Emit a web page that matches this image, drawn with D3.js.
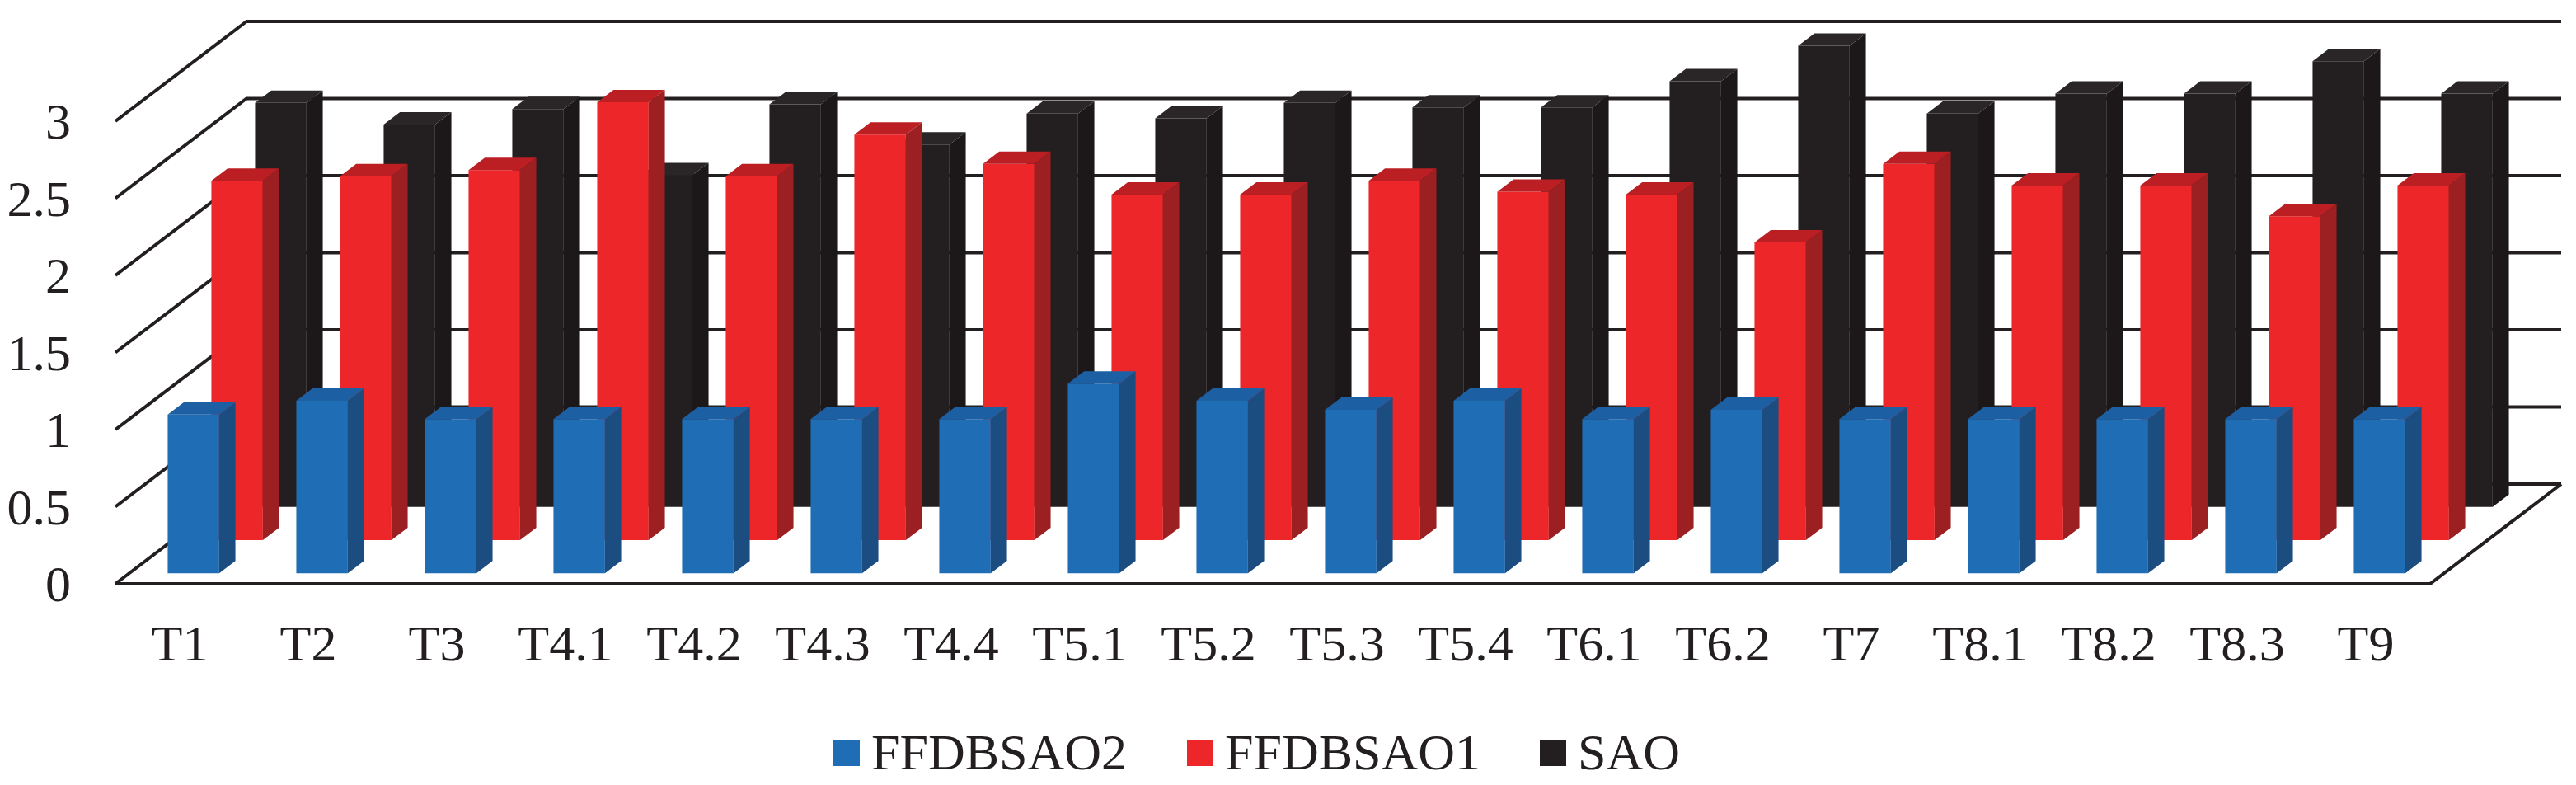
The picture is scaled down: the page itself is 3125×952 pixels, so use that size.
<!DOCTYPE html>
<html>
<head>
<meta charset="utf-8">
<script src="https://cdn.jsdelivr.net/npm/d3@7"></script>
<style>
  html, body { margin: 0; padding: 0; background: #fff; }
  svg { display: block; }
</style>
</head>
<body>
<div id="chart"></div>
<script>
const categories = ["T1", "T2", "T3", "T4.1", "T4.2", "T4.3", "T4.4", "T5.1", "T5.2",
  "T5.3", "T5.4", "T6.1", "T6.2", "T7", "T8.1", "T8.2", "T8.3", "T9"];

const ffdbsao2 = [1.03, 1.12, 1.0, 1.0, 1.0, 1.0, 1.0, 1.23, 1.12,
  1.06, 1.12, 1.0, 1.06, 1.0, 1.0, 1.0, 1.0, 1.0];
const ffdbsao1 = [2.33, 2.36, 2.40, 2.84, 2.36, 2.63, 2.44, 2.24, 2.24,
  2.33, 2.26, 2.24, 1.93, 2.44, 2.30, 2.30, 2.10, 2.30];
const sao = [2.62, 2.48, 2.58, 2.15, 2.61, 2.35, 2.55, 2.52, 2.62,
  2.59, 2.59, 2.76, 2.99, 2.55, 2.68, 2.68, 2.89, 2.68];

const seriesNames = ["FFDBSAO2", "FFDBSAO1", "SAO"];
const yTicks = [0, 0.5, 1, 1.5, 2, 2.5, 3];

const series = [
  { name: "FFDBSAO2", values: ffdbsao2, front: "#1f6db5", side: "#1b4d80", top: "#1c60a3" },
  { name: "FFDBSAO1", values: ffdbsao1, front: "#ec2629", side: "#9c1f21", top: "#bb1f23" },
  { name: "SAO", values: sao, front: "#231f20", side: "#1c1819", top: "#2a2627" }
];

const width = 3125, height = 952;
const lineColor = "#231f20";
const font = "'Liberation Serif', 'Times New Roman', serif";

const svg = d3.select("#chart")
  .append("svg")
  .attr("width", width)
  .attr("height", height);

// category axis along the front edge of the floor
const x = d3.scaleBand()
  .domain(categories)
  .range([140, 2948])
  .paddingInner(0.6)
  .paddingOuter(0.3);

// value -> vertical pixels
const y = d3.scaleLinear().domain([0, 3]).range([0, 561]);

// depth 0 (front) .. 1 (back wall), oblique offsets
const depthX = d3.scaleLinear().domain([0, 1]).range([0, 159]);
const depthY = d3.scaleLinear().domain([0, 1]).range([0, 121]);

// one row per series, front to back
const row = d3.scaleBand()
  .domain(seriesNames)
  .range([0, 1])
  .paddingInner(0.628)
  .paddingOuter(0.314);

const baseY = 708;
function proj(px, d, v) {
  return [px + depthX(d), baseY - y(v) - depthY(d)];
}
const left = x.range()[0], right = x.range()[1];

const walls = svg.append("g")
  .attr("stroke", lineColor)
  .attr("stroke-width", 4)
  .attr("fill", "none");

// back wall gridlines
walls.selectAll("line.grid")
  .data(yTicks)
  .enter()
  .append("line")
  .attr("class", "grid")
  .attr("x1", d => proj(left, 1, d)[0])
  .attr("y1", d => proj(left, 1, d)[1])
  .attr("x2", d => proj(right, 1, d)[0])
  .attr("y2", d => proj(right, 1, d)[1]);

// side wall lines
walls.selectAll("line.side")
  .data(yTicks)
  .enter()
  .append("line")
  .attr("class", "side")
  .attr("x1", d => proj(left, 0, d)[0])
  .attr("y1", d => proj(left, 0, d)[1])
  .attr("x2", d => proj(left, 1, d)[0])
  .attr("y2", d => proj(left, 1, d)[1]);

// floor front and right edges
walls.append("path")
  .attr("stroke-linejoin", "miter")
  .attr("d", d3.line()([proj(left, 0, 0), proj(right, 0, 0), proj(right, 1, 0)]));

// y labels
svg.append("g")
  .selectAll("text")
  .data(yTicks)
  .enter()
  .append("text")
  .attr("x", 86)
  .attr("y", d => proj(left, 0, d)[1] + 21)
  .attr("text-anchor", "end")
  .style("font-family", font)
  .style("font-size", "62px")
  .style("fill", lineColor)
  .text(d => d3.format("")(d));

// category labels
svg.append("g")
  .selectAll("text")
  .data(categories)
  .enter()
  .append("text")
  .attr("x", d => x(d) + x.bandwidth() / 2)
  .attr("y", 801)
  .attr("text-anchor", "middle")
  .style("font-family", font)
  .style("font-size", "62px")
  .style("fill", lineColor)
  .text(d => d);

// bars, back row first so front rows cover them
const w = x.bandwidth(), dd = row.bandwidth();
series.slice().reverse().forEach(s => {
  const d0 = row(s.name);
  const g = svg.append("g");
  const bars = g.selectAll("g")
    .data(categories.map((c, i) => ({ c: c, v: s.values[i] })))
    .enter()
    .append("g");

  bars.append("path")
    .attr("fill", s.front)
    .attr("d", d => d3.line()([proj(x(d.c), d0, 0), proj(x(d.c) + w, d0, 0),
      proj(x(d.c) + w, d0, d.v), proj(x(d.c), d0, d.v)]) + "Z");

  bars.append("path")
    .attr("fill", s.side)
    .attr("d", d => d3.line()([proj(x(d.c) + w, d0, 0), proj(x(d.c) + w, d0 + dd, 0),
      proj(x(d.c) + w, d0 + dd, d.v), proj(x(d.c) + w, d0, d.v)]) + "Z");

  bars.append("path")
    .attr("fill", s.top)
    .attr("d", d => d3.line()([proj(x(d.c), d0, d.v), proj(x(d.c) + w, d0, d.v),
      proj(x(d.c) + w, d0 + dd, d.v), proj(x(d.c), d0 + dd, d.v)]) + "Z");
});

// legend
const legendX = [1011, 1440, 1868];
const legend = svg.append("g")
  .selectAll("g")
  .data(series)
  .enter()
  .append("g")
  .attr("transform", (d, i) => "translate(" + legendX[i] + ",897)");

legend.append("rect")
  .attr("width", 32)
  .attr("height", 32)
  .attr("fill", d => d.front);

legend.append("text")
  .attr("x", 46)
  .attr("y", 36)
  .style("font-family", font)
  .style("font-size", "62px")
  .style("fill", lineColor)
  .text(d => d.name);
</script>
</body>
</html>
